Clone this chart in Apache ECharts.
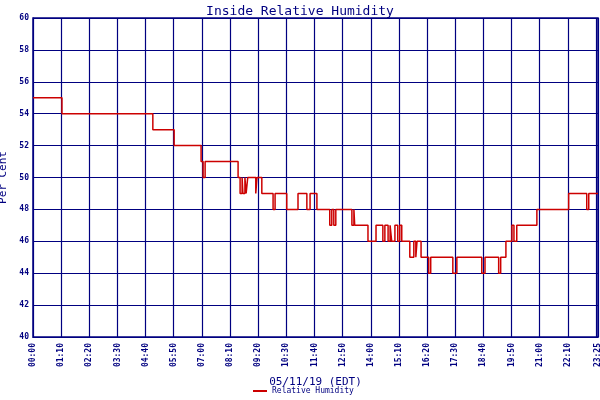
<!DOCTYPE html>
<html><head><meta charset="utf-8">
<script src="https://cdn.jsdelivr.net/npm/echarts@6/dist/echarts.min.js"></script>
<style>html,body{margin:0;padding:0;background:#fff}#c{width:600px;height:400px}</style>
</head><body><div id="c"></div>
<script>
// step start times (minutes after midnight) and humidity values
const minutes = [0,72,298,351,418,423,428,510,515,520,522,527,530,534,554,557,569,597,602,631,659,681,689,706,738,743,748,753,793,798,800,833,853,870,875,883,888,892,900,907,912,917,937,947,952,955,965,984,989,1044,1054,1116,1124,1158,1163,1176,1191,1196,1203,1253,1332,1377,1382,1405];
const humidity = [55,54,53,52,51,50,51,50,49,50,49,50,49,50,49,50,49,48,49,48,49,48,49,48,47,48,47,48,47,48,47,46,47,46,47,46,47,46,47,46,47,46,45,46,45,46,45,44,45,44,45,44,45,44,45,46,47,46,47,48,49,48,49,49];
const yTicks = [40,42,44,46,48,50,52,54,56,58,60];
const xLabelValues = [0,70,140,210,280,350,420,490,560,630,700,770,840,910,980,1050,1120,1190,1260,1330,1400,1405];
const navy = '#000080';
const fmt = m => String(Math.floor(m/60)).padStart(2,'0')+':'+String(m%60).padStart(2,'0');
const chart = echarts.init(document.getElementById('c'));
chart.setOption({
  animation:false,
  backgroundColor:'#fff',
  title:{text:'Inside Relative Humidity',left:'center',top:0,textStyle:{color:navy,fontFamily:'DejaVu Sans Mono',fontSize:13,fontWeight:'normal'}},
  grid:{left:33,right:2,top:18,bottom:63,show:true,borderColor:navy,borderWidth:1.5,containLabel:false,outerBoundsMode:'none'},
  legend:{bottom:0,left:248,itemWidth:14,itemHeight:2,icon:'rect',itemGap:4,textStyle:{color:navy,fontFamily:'DejaVu Sans Mono',fontSize:8},data:['Relative Humidity']},
  xAxis:{type:'value',min:0,max:1405,interval:70,
    name:'05/11/19 (EDT)',nameLocation:'middle',nameGap:40,nameTextStyle:{color:navy,fontFamily:'DejaVu Sans Mono',fontSize:11},
    axisLine:{lineStyle:{color:navy}},axisTick:{show:false},
    splitLine:{show:true,lineStyle:{color:navy,width:1.2}},
    axisLabel:{customValues:xLabelValues,hideOverlap:false,showMaxLabel:true,rotate:90,color:navy,fontFamily:'DejaVu Sans Mono',fontSize:8,fontWeight:'bold',margin:6,formatter:v=>fmt(v)}},
  yAxis:{type:'value',min:yTicks[0],max:yTicks[yTicks.length-1],interval:2,
    name:'Per Cent',nameLocation:'middle',nameGap:22,nameTextStyle:{color:navy,fontFamily:'DejaVu Sans Mono',fontSize:11},
    axisLine:{lineStyle:{color:navy}},axisTick:{show:false},
    splitLine:{show:true,lineStyle:{color:navy,width:1.2}},
    axisLabel:{color:navy,fontFamily:'DejaVu Sans Mono',fontSize:8,fontWeight:'bold',margin:4}},
  series:[{name:'Relative Humidity',type:'line',step:'end',symbol:'none',
    lineStyle:{color:'#cc0000',width:1.5},itemStyle:{color:'#cc0000'},
    data:minutes.map((m,i)=>[m,humidity[i]])}]
});
</script></body></html>
